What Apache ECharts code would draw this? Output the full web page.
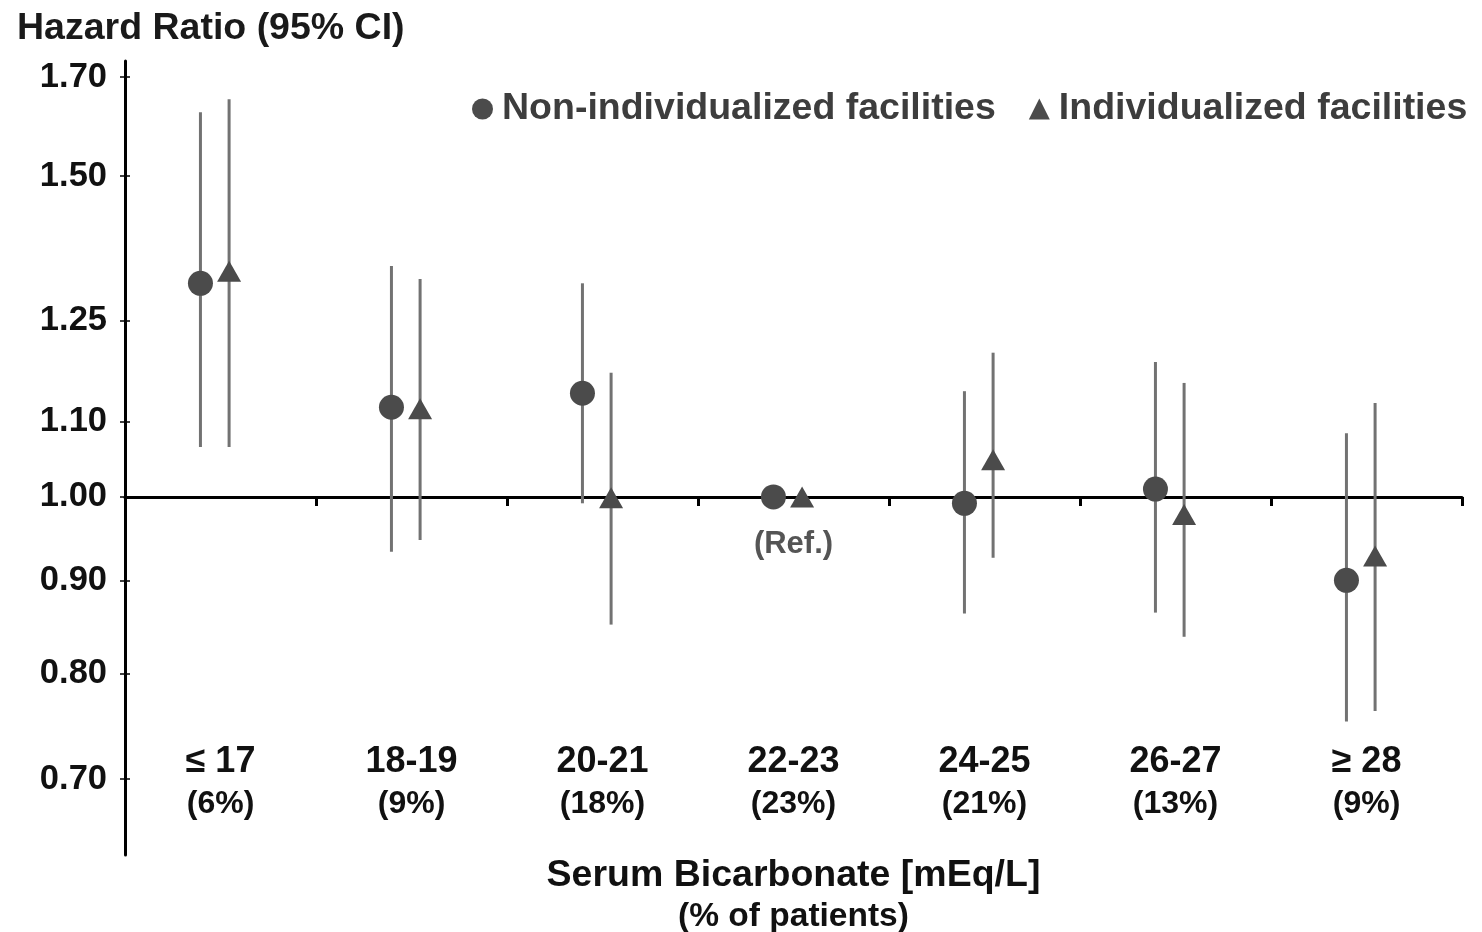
<!DOCTYPE html>
<html>
<head>
<meta charset="utf-8">
<title>Hazard Ratio by Serum Bicarbonate</title>
<script src="https://cdn.jsdelivr.net/npm/echarts@6/dist/echarts.min.js"></script>
<style>
  html, body { margin: 0; padding: 0; background: #ffffff; }
  #chart { width: 1482px; height: 932px; }
</style>
</head>
<body>
<div id="chart"></div>
<script>
// Serum bicarbonate categories and share of patients in each
const categories = ['≤ 17', '18-19', '20-21', '22-23', '24-25', '26-27', '≥ 28'];
const patientShare = ['(6%)', '(9%)', '(18%)', '(23%)', '(21%)', '(13%)', '(9%)'];
const refLabels = ['', '', '', '(Ref.)', '', '', ''];

// Hazard ratios with 95% confidence limits (22-23 is the reference group)
const nonIndHR = [1.31, 1.12, 1.14, 1.00, 0.992, 1.010, 0.900];
const nonIndLo = [1.065, 0.933, 0.992, null, 0.863, 0.864, 0.753];
const nonIndHi = [1.626, 1.339, 1.310, null, 1.143, 1.186, 1.084];

const indHR = [1.330, 1.118, 0.999, 1.00, 1.048, 0.978, 0.928];
const indLo = [1.065, 0.947, 0.851, null, 0.926, 0.838, 0.763];
const indHi = [1.653, 1.317, 1.170, null, 1.200, 1.155, 1.126];

// Hazard-ratio axis: ticks and range (plotted on a log scale)
const yTicks = [0.70, 0.80, 0.90, 1.00, 1.10, 1.25, 1.50, 1.70];
const yRange = [0.636, 1.735];

const FONT = '"Liberation Sans", Arial, Helvetica, sans-serif';
const MARK_COLOR = '#4b4b4b';
const BAR_COLOR = '#727272';

const ln = v => (v == null ? null : Math.log(v));

function buildData(hr, lo, hi) {
  return hr.map((v, i) => [i, ln(v), ln(lo[i]), ln(hi[i])]);
}

function makeRender(shape, shift, withRef) {
  return function (params, api) {
    const i = api.value(0);
    const band = api.size([1, 0])[0];
    const dx = shift * band;
    const p = api.coord([i, api.value(1)]);
    const cx = p[0] + dx;
    const cy = p[1];
    const color = api.visual('color');
    const children = [];
    const lo = api.value(2);
    const hi = api.value(3);
    if (lo !== null && hi !== null && isFinite(lo) && isFinite(hi)) {
      const pLo = api.coord([i, lo]);
      const pHi = api.coord([i, hi]);
      children.push({
        type: 'line',
        shape: { x1: cx, y1: pLo[1], x2: cx, y2: pHi[1] },
        style: { stroke: BAR_COLOR, lineWidth: 3 }
      });
    }
    if (shape === 'circle') {
      children.push({
        type: 'circle',
        shape: { cx: cx, cy: cy, r: 12.5 },
        style: { fill: color }
      });
    } else {
      const w = 24, h = 21;
      children.push({
        type: 'polygon',
        shape: { points: [[cx, cy - h / 2], [cx + w / 2, cy + h / 2], [cx - w / 2, cy + h / 2]] },
        style: { fill: color }
      });
    }
    if (withRef && refLabels[i]) {
      children.push({
        type: 'text',
        x: p[0],
        y: cy + 48,
        style: {
          text: refLabels[i],
          fontFamily: FONT,
          fontWeight: 'bold',
          fontSize: 31,
          fill: '#555555',
          align: 'center',
          verticalAlign: 'middle'
        }
      });
    }
    return { type: 'group', children: children };
  };
}

const chart = echarts.init(document.getElementById('chart'), null, { renderer: 'canvas' });

chart.setOption({
  animation: false,
  backgroundColor: '#ffffff',
  title: {
    text: 'Hazard Ratio (95% CI)',
    left: 12,
    top: 5,
    textStyle: { fontFamily: FONT, fontWeight: 'bold', fontSize: 37.5, color: '#1a1a1a' }
  },
  legend: {
    left: 467,
    top: 85,
    itemWidth: 21,
    itemHeight: 21,
    itemGap: 33,
    textStyle: { fontFamily: FONT, fontWeight: 'bold', fontSize: 37.5, color: '#3d3d3d', padding: [0, 0, 0, 4] },
    data: [
      { name: 'Non-individualized facilities', icon: 'circle' },
      { name: 'Individualized facilities', icon: 'triangle' }
    ]
  },
  grid: { left: 125, right: 20, top: 61, bottom: 77, outerBoundsMode: 'none', containLabel: false },
  xAxis: [
    {
      type: 'category',
      data: categories,
      boundaryGap: true,
      axisLine: { onZero: true, lineStyle: { color: '#000000', width: 3 } },
      axisTick: { show: true, interval: 0, length: 9, lineStyle: { color: '#000000', width: 3 } },
      axisLabel: { show: false },
      splitLine: { show: false }
    },
    {
      type: 'category',
      data: categories,
      position: 'bottom',
      offset: -114,
      boundaryGap: true,
      axisLine: { show: false, onZero: false },
      axisTick: { show: false },
      splitLine: { show: false },
      axisLabel: {
        interval: 0,
        margin: 0,
        formatter: (v, i) => '{a|' + v + '}\n{b|' + patientShare[i] + '}',
        rich: {
          a: { fontFamily: FONT, fontWeight: 'bold', fontSize: 36, lineHeight: 42, color: '#111111' },
          b: { fontFamily: FONT, fontWeight: 'bold', fontSize: 32, lineHeight: 42, color: '#111111' }
        }
      },
      name: 'Serum Bicarbonate [mEq/L]\n{s|(% of patients)}',
      nameLocation: 'middle',
      nameGap: 114,
      nameTextStyle: {
        fontFamily: FONT, fontWeight: 'bold', fontSize: 37.5, lineHeight: 41, color: '#111111',
        verticalAlign: 'top',
        rich: { s: { fontFamily: FONT, fontWeight: 'bold', fontSize: 33.5, lineHeight: 41, color: '#111111' } }
      }
    }
  ],
  yAxis: [
    {
      type: 'value',
      min: Math.log(yRange[0]),
      max: Math.log(yRange[1]),
      axisLine: { show: true, lineStyle: { color: '#000000', width: 3 } },
      axisTick: { show: true, length: 5, customValues: yTicks.map(Math.log), lineStyle: { color: '#000000', width: 1.5 } },
      axisLabel: {
        margin: 18,
        customValues: yTicks.map(Math.log),
        formatter: v => Math.exp(v).toFixed(2),
        fontFamily: FONT, fontWeight: 'bold', fontSize: 34.5, color: '#111111'
      },
      splitLine: { show: false }
    },
    {
      type: 'value',
      position: 'left',
      offset: 0,
      min: Math.log(yRange[0]),
      max: Math.log(yRange[1]),
      axisLine: { show: false },
      axisTick: { show: true, inside: true, length: 5, customValues: yTicks.map(Math.log), lineStyle: { color: '#000000', width: 1.5 } },
      axisLabel: { show: false },
      splitLine: { show: false }
    }
  ],
  series: [
    {
      name: 'Non-individualized facilities',
      type: 'custom',
      xAxisIndex: 0,
      yAxisIndex: 0,
      itemStyle: { color: MARK_COLOR },
      renderItem: makeRender('circle', -0.105, true),
      encode: { x: 0, y: [1, 2, 3] },
      data: buildData(nonIndHR, nonIndLo, nonIndHi),
      z: 3
    },
    {
      name: 'Individualized facilities',
      type: 'custom',
      xAxisIndex: 0,
      yAxisIndex: 0,
      itemStyle: { color: MARK_COLOR },
      renderItem: makeRender('triangle', 0.045, false),
      encode: { x: 0, y: [1, 2, 3] },
      data: buildData(indHR, indLo, indHi),
      z: 3
    }
  ]
});
</script>
</body>
</html>
